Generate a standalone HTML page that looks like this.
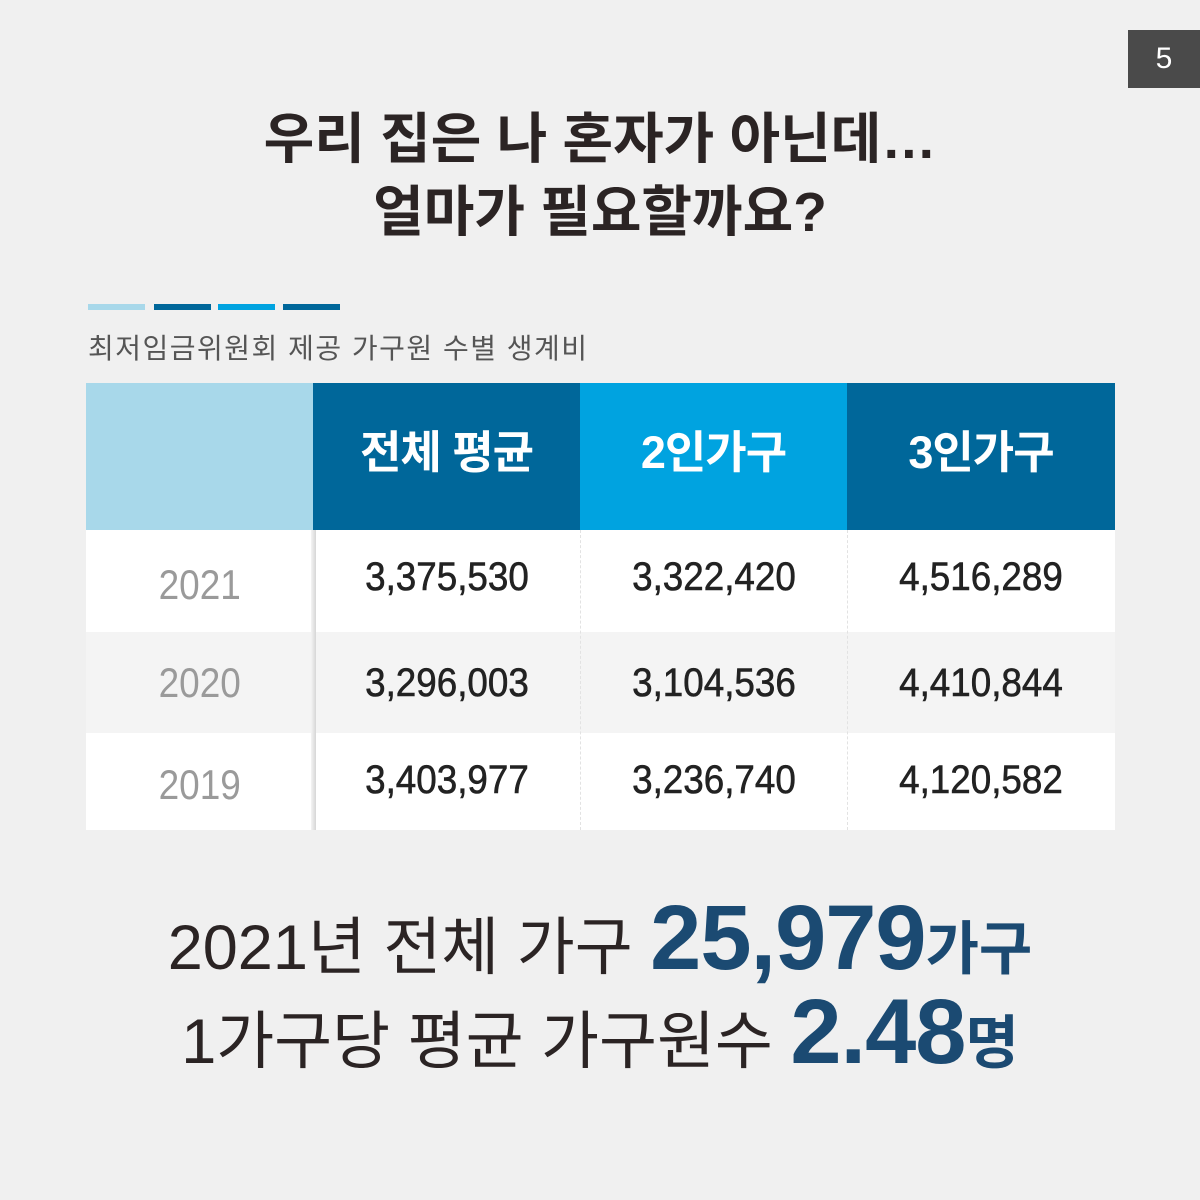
<!DOCTYPE html>
<html><head><meta charset="utf-8">
<style>
*{margin:0;padding:0;box-sizing:border-box}
body{width:1200px;height:1200px;background:#f0f0f0;position:relative;overflow:hidden;font-family:"Liberation Sans","Noto Sans CJK KR",sans-serif;color:#2b2424}
.abs{position:absolute}
.pg{left:1128px;top:30px;width:72px;height:58px;background:#4a4a4a;color:#fff;font-size:30px;text-align:center;line-height:58px}
.title{left:0;width:1200px;text-align:center;font-weight:bold;font-size:55px;line-height:73px;top:103px;letter-spacing:0px}
.bar{top:304px;height:6px;width:57px}
.sub{left:88px;top:327px;font-size:28px;color:#555;letter-spacing:1.5px}
.cell{position:absolute;display:flex;align-items:center;justify-content:center}
.hd{top:375px;height:147px;color:#fff;font-weight:bold;font-size:45px;letter-spacing:-1px}
.hdbg{top:383px;height:147px}
.yr{color:#9a9a9a;font-size:42px}
.val{font-size:40px;color:#222}
.val span{display:inline-block;transform:scaleX(0.92);-webkit-text-stroke:0.6px #222}
.yr span{display:inline-block;transform:scaleX(0.88)}
.dash{position:absolute;top:530px;height:300px;border-left:1px dashed #e2e2e2}
.big{left:0;width:1200px;text-align:center;font-size:63px;white-space:nowrap}
.num{font-weight:bold;color:#1b4a72;font-size:92px;letter-spacing:-1px}
.unit{font-weight:bold;color:#1b4a72;font-size:58px}
</style></head><body>
<div class="abs pg">5</div>
<div class="abs title">우리 집은 나 혼자가 아닌데…<br>얼마가 필요할까요?</div>
<div class="abs bar" style="left:88px;background:#a8d8ea"></div>
<div class="abs bar" style="left:154px;background:#00679a"></div>
<div class="abs bar" style="left:218px;background:#00a3e0"></div>
<div class="abs bar" style="left:283px;background:#00679a"></div>
<div class="abs sub">최저임금위원회 제공 가구원 수별 생계비</div>

<div>
<div class="abs hdbg" style="left:86px;width:227px;background:#a8d8ea"></div>
<div class="abs hdbg" style="left:313px;width:267px;background:#00679a"></div>
<div class="abs hdbg" style="left:580px;width:267px;background:#00a3e0"></div>
<div class="abs hdbg" style="left:847px;width:268px;background:#00679a"></div>
<div class="cell hd" style="left:313px;width:267px">전체 평균</div>
<div class="cell hd" style="left:580px;width:267px">2인가구</div>
<div class="cell hd" style="left:847px;width:268px">3인가구</div>

<div class="abs" style="left:86px;top:530px;width:1029px;height:102px;background:#fff"></div>
<div class="abs" style="left:86px;top:632px;width:1029px;height:101px;background:#f4f4f4"></div>
<div class="abs" style="left:86px;top:733px;width:1029px;height:97px;background:#fff"></div>
<div class="abs" style="left:311px;top:530px;width:5px;height:300px;background:linear-gradient(to right,#f4f4f4,#d6d6d6)"></div>
<div class="dash" style="left:580px"></div>
<div class="dash" style="left:847px"></div>

<div class="cell yr" style="left:86px;top:540px;width:227px;height:90px"><span>2021</span></div>
<div class="cell val" style="left:313px;top:532px;width:267px;height:90px"><span>3,375,530</span></div>
<div class="cell val" style="left:580px;top:532px;width:267px;height:90px"><span>3,322,420</span></div>
<div class="cell val" style="left:847px;top:532px;width:268px;height:90px"><span>4,516,289</span></div>

<div class="cell yr" style="left:86px;top:638px;width:227px;height:90px"><span>2020</span></div>
<div class="cell val" style="left:313px;top:638px;width:267px;height:90px"><span>3,296,003</span></div>
<div class="cell val" style="left:580px;top:638px;width:267px;height:90px"><span>3,104,536</span></div>
<div class="cell val" style="left:847px;top:638px;width:268px;height:90px"><span>4,410,844</span></div>

<div class="cell yr" style="left:86px;top:740px;width:227px;height:90px"><span>2019</span></div>
<div class="cell val" style="left:313px;top:735px;width:267px;height:90px"><span>3,403,977</span></div>
<div class="cell val" style="left:580px;top:735px;width:267px;height:90px"><span>3,236,740</span></div>
<div class="cell val" style="left:847px;top:735px;width:268px;height:90px"><span>4,120,582</span></div>
</div>

<div class="abs big" style="top:886px">2021년 전체 가구 <span class="num">25,979</span><span class="unit">가구</span></div>
<div class="abs big" style="top:980px">1가구당 평균 가구원수 <span class="num">2.48</span><span class="unit">명</span></div>
</body></html>
